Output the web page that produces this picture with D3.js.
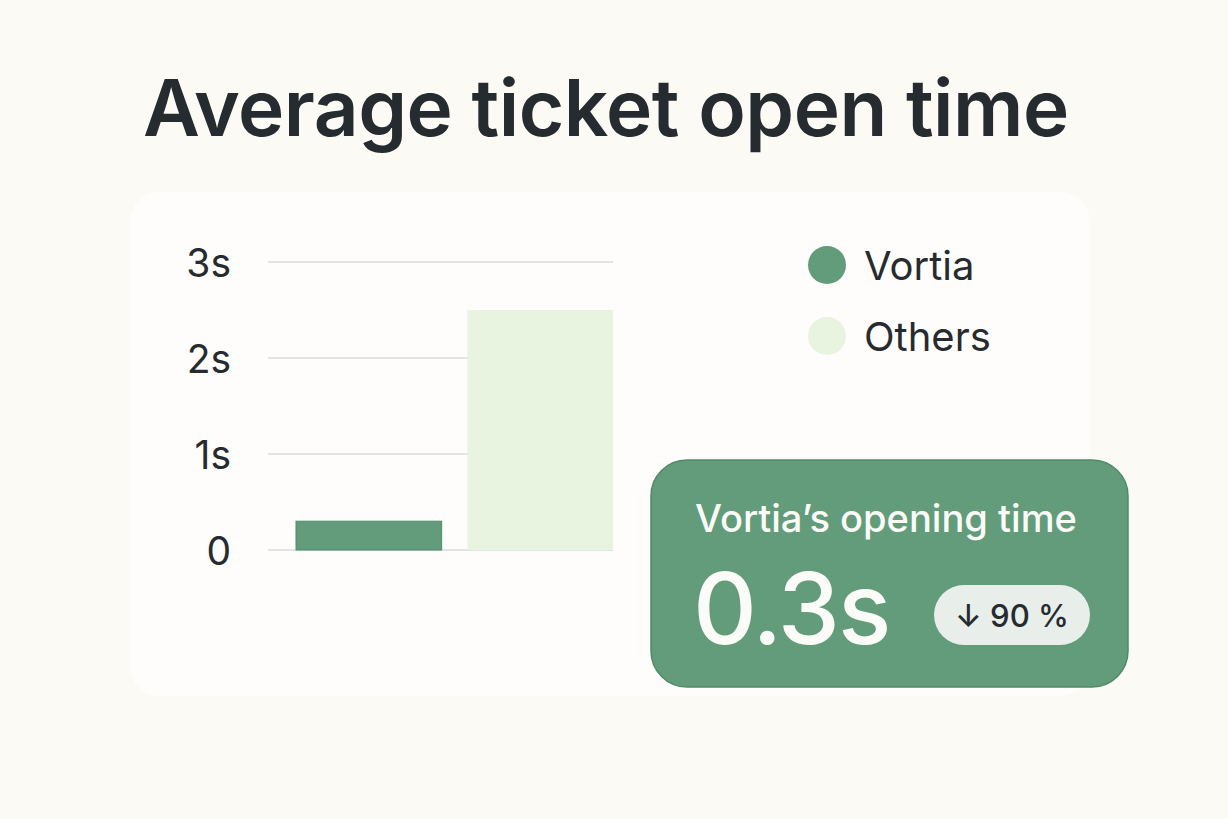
<!DOCTYPE html>
<html><head><meta charset="utf-8">
<script src="https://cdn.jsdelivr.net/npm/d3@7"></script>
<style>
html,body{margin:0;padding:0;background:#fcfaf5;}
svg{display:block;font-family:Inter,"Noto Sans",sans-serif;}
</style></head>
<body>
<svg id="c" width="1228" height="819"></svg>
<script>
const categories = ["Vortia", "Others"];
const values = [0.3, 2.5];
const yTicks = [0, 1, 2, 3];
const yTickLabels = ["0", "1s", "2s", "3s"];
const legendLabels = ["Vortia", "Others"];
const colors = ["#629c7b", "#e8f3e0"];
const titleText = "Average ticket open time";
const calloutTitle = "Vortia\u2019s opening time";
const calloutValue = "0.3s";
const calloutChange = "\u2193 90 %";

const svg = d3.select("#c");
const dark = "#262b30";

function fit(sel, w) {
  const len = sel.node().getComputedTextLength();
  const fs = parseFloat(sel.attr("font-size"));
  sel.attr("font-size", fs * w / len);
}

svg.append("rect").attr("width",1228).attr("height",819).attr("fill","#fcfaf5");

// title
const t = svg.append("text").attr("x",143).attr("y",136).attr("font-size",72)
  .attr("font-weight",600).attr("fill",dark).attr("letter-spacing","-0.5").text(titleText);
fit(t, 925);

// card
svg.append("rect").attr("x",130).attr("y",192).attr("width",960).attr("height",504)
  .attr("rx",30).attr("fill","#fefdfb");

// scales
const y = d3.scaleLinear().domain([0,3]).range([550,262]);
const x = d3.scaleBand().domain(categories).range([296,613]).paddingInner(0.15).paddingOuter(0);

// grid
svg.append("g").selectAll("line").data(yTicks).join("line")
  .attr("x1",268).attr("x2",613).attr("y1",d=>y(d)).attr("y2",d=>y(d))
  .attr("stroke","#dfe4e5").attr("stroke-width",2);

// axis labels
const yAxis = d3.axisLeft(y).tickValues(yTicks).tickFormat((d,i)=>yTickLabels[i]).tickSize(0).tickPadding(0);
const ga = svg.append("g").attr("transform","translate(231,0)").call(yAxis);
ga.select(".domain").remove();
ga.selectAll("text").attr("font-size",39).attr("fill",dark).attr("font-family","Inter,'Noto Sans',sans-serif")
  .attr("dy","0.38em");

// bars
svg.append("g").selectAll("rect").data(values).join("rect")
  .attr("x",(d,i)=>x(categories[i])).attr("width",x.bandwidth())
  .attr("y",d=>y(d)).attr("height",d=>y(0)-y(d)).attr("fill",(d,i)=>colors[i])
  .attr("stroke",(d,i)=>i===0?"#4f8c69":"none").attr("stroke-width",1);

// legend
const lg = svg.append("g").selectAll("g").data(legendLabels).join("g")
  .attr("transform",(d,i)=>`translate(827,${265+i*71})`);
lg.append("circle").attr("r",19).attr("fill",(d,i)=>colors[i]);
lg.append("text").attr("x",37).attr("y",15).attr("font-size",40).attr("fill",dark).text(d=>d);

// callout
svg.append("rect").attr("x",651).attr("y",460).attr("width",477).attr("height",227).attr("rx",36)
  .attr("fill","#629c7b").attr("stroke","#4f8a68").attr("stroke-width",1.5);
const ct = svg.append("text").attr("x",695).attr("y",532).attr("font-size",34).attr("font-weight",500)
  .attr("fill","#fbfcf8").text(calloutTitle);
fit(ct, 382);
const cv = svg.append("text").attr("x",693).attr("y",644).attr("font-size",94).attr("font-weight",500)
  .attr("fill","#fbfcf8").attr("letter-spacing","-2").text(calloutValue);
fit(cv, 196);
svg.append("rect").attr("x",934).attr("y",585).attr("width",156).attr("height",60).attr("rx",30)
  .attr("fill","#e8efea");
const pt = svg.append("text").attr("x",1012).attr("y",627).attr("text-anchor","middle").attr("font-size",30)
  .attr("font-weight",500).attr("fill",dark).text(calloutChange);
fit(pt, 114);
</script>
</body></html>
